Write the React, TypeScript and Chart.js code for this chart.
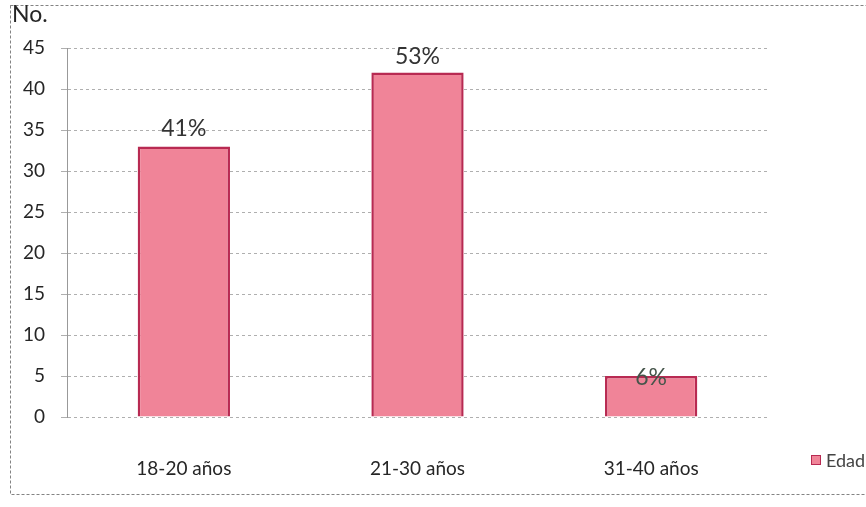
import React, { useEffect, useRef } from "react";
import { Chart, registerables } from "chart.js";

Chart.register(...registerables);

// Age groups and respondent counts
const categories = ["18-20 años", "21-30 años", "31-40 años"];
const counts = [33, 42, 5];
const percentLabels = ["41%", "53%", "6%"];
const seriesName = "Edad";
const yTicks = [0, 5, 10, 15, 20, 25, 30, 35, 40, 45];

const FONT = "Lato, 'Open Sans', sans-serif";
const BAR_FILL = "rgb(240,132,152)";
const BAR_EDGE = "rgb(184,42,82)";
const TEXT = "#262626";
// vertical gap between a bar top and its percentage label
const labelLift = [18, 16, -2];
const labelColors = ["#333", "#333", "#45544a"];

const decorations = {
  id: "decorations",
  afterDatasetsDraw(chart: any) {
    const { ctx } = chart;
    const meta = chart.getDatasetMeta(0);
    ctx.save();
    // percentage labels
    ctx.font = `23px ${FONT}`;
    ctx.textAlign = "center";
    ctx.textBaseline = "middle";
    meta.data.forEach((bar: any, i: number) => {
      ctx.fillStyle = labelColors[i];
      ctx.fillText(percentLabels[i], bar.x, bar.y - labelLift[i]);
    });
    ctx.restore();
  },
  afterDraw(chart: any) {
    const { ctx } = chart;
    ctx.save();
    // outer dashed frame
    ctx.strokeStyle = "rgba(100,100,100,0.8)";
    ctx.lineWidth = 1;
    ctx.setLineDash([3, 2]);
    ctx.strokeRect(10.5, 5.5, 900, 489);
    ctx.setLineDash([]);
    // axis title
    ctx.fillStyle = TEXT;
    ctx.font = `23px ${FONT}`;
    ctx.textAlign = "left";
    ctx.textBaseline = "middle";
    ctx.fillText("No.", 12, 15);
    // legend
    const lx = 811;
    const ly = 460;
    ctx.fillStyle = BAR_FILL;
    ctx.fillRect(lx, ly - 5, 10, 10);
    ctx.strokeStyle = BAR_EDGE;
    ctx.lineWidth = 1;
    ctx.strokeRect(lx + 0.5, ly - 4.5, 9, 9);
    ctx.fillStyle = "#444";
    ctx.font = `18px ${FONT}`;
    ctx.fillText(seriesName, lx + 15, ly + 1);
    ctx.restore();
  },
};

export default function App() {
  const canvasRef = useRef<HTMLCanvasElement | null>(null);

  useEffect(() => {
    if (!canvasRef.current) return;
    const chart = new Chart(canvasRef.current, {
      type: "bar",
      data: {
        labels: categories,
        datasets: [
          {
            label: seriesName,
            data: counts,
            backgroundColor: BAR_FILL,
            borderColor: BAR_EDGE,
            borderWidth: 2.5,
            categoryPercentage: 1,
            barPercentage: 0.395,
          },
        ],
      },
      options: {
        responsive: false,
        animation: false,
        layout: { padding: { left: 0, top: 48, right: 98, bottom: 0 } },
        plugins: {
          legend: { display: false },
          tooltip: { enabled: false },
        },
        scales: {
          x: {
            grid: { display: false },
            border: { display: false },
            ticks: {
              color: TEXT,
              font: { family: FONT, size: 19 },
              padding: 32,
            },
            afterFit(scale: any) {
              scale.height = 507 - 417;
            },
          },
          y: {
            min: 0,
            max: 45,
            afterBuildTicks(scale: any) {
              scale.ticks = yTicks.map((v) => ({ value: v }));
            },
            grid: {
              color: "rgba(110,110,110,0.55)",
              lineWidth: 1,
              tickLength: 6,
            },
            border: {
              display: true,
              color: "rgba(110,110,110,0.7)",
              dash: [3, 3],
            },
            ticks: {
              color: TEXT,
              font: { family: FONT, size: 19 },
              padding: 16,
            },
            afterFit(scale: any) {
              scale.width = 67;
            },
          },
        },
      },
      plugins: [decorations],
    } as any);
    return () => chart.destroy();
  }, []);

  return (
    <div style={{ position: "fixed", left: 0, top: 0, width: 866, height: 507, background: "#fff" }}>
      <canvas ref={canvasRef} width={866} height={507} style={{ display: "block" }} />
    </div>
  );
}
